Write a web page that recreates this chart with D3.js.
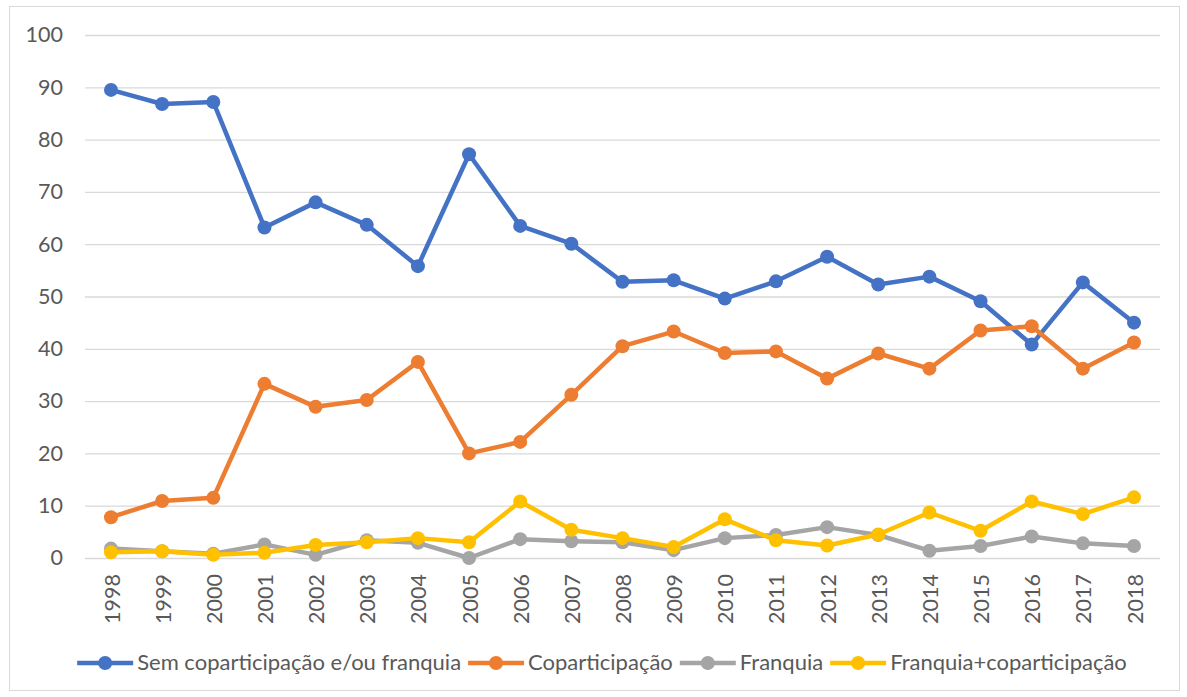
<!DOCTYPE html>
<html>
<head>
<meta charset="utf-8">
<script src="https://cdn.jsdelivr.net/npm/d3@7"></script>
<style>
body { margin: 0; background: #fff; }
text { font-family: Lato, "Open Sans", sans-serif; fill: #595959; }
</style>
</head>
<body>
<svg id="chart"></svg>
<script>
var years = ["1998", "1999", "2000", "2001", "2002", "2003", "2004", "2005", "2006", "2007",
	"2008", "2009", "2010", "2011", "2012", "2013", "2014", "2015", "2016", "2017", "2018"];

var semCopart = [89.5, 86.8, 87.2, 63.2, 68.0, 63.7, 55.8, 77.2, 63.5, 60.1,
	52.8, 53.1, 49.6, 52.9, 57.6, 52.3, 53.8, 49.1, 40.8, 52.7, 45.0];
var copart = [7.8, 10.9, 11.5, 33.3, 28.9, 30.2, 37.5, 20.0, 22.2, 31.2,
	40.5, 43.3, 39.2, 39.5, 34.3, 39.1, 36.2, 43.5, 44.3, 36.2, 41.2];
var franquia = [1.8, 1.3, 0.8, 2.6, 0.6, 3.4, 2.9, 0.0, 3.6, 3.2,
	3.0, 1.5, 3.8, 4.4, 5.9, 4.4, 1.4, 2.3, 4.1, 2.8, 2.3];
var franqCopart = [1.1, 1.3, 0.6, 1.0, 2.5, 3.0, 3.8, 3.0, 10.8, 5.4,
	3.8, 2.1, 7.4, 3.4, 2.4, 4.5, 8.7, 5.2, 10.8, 8.4, 11.6];

var yTicks = [0, 10, 20, 30, 40, 50, 60, 70, 80, 90, 100];

var seriesNames = ["Sem coparticipação e/ou franquia", "Coparticipação", "Franquia", "Franquia+coparticipação"];
var seriesColors = ["#4472c4", "#ed7d31", "#a5a5a5", "#ffc000"];
var seriesValues = [semCopart, copart, franquia, franqCopart];

var width = 1187, height = 697;
var svg = d3.select("#chart")
	.attr("width", width)
	.attr("height", height);

// chart border
svg.append("rect")
	.attr("x", 9.5)
	.attr("y", 6.5)
	.attr("width", 1170)
	.attr("height", 684)
	.style("fill", "none")
	.style("stroke", "#d9d9d9");

var x = d3.scalePoint()
	.domain(years)
	.range([111, 1134]);
var y = d3.scaleLinear()
	.domain([0, 100])
	.range([558, 35]);

// gridlines
svg.append("g")
	.selectAll("line")
	.data(yTicks)
	.enter()
	.append("line")
	.attr("x1", 85)
	.attr("x2", 1160)
	.attr("y1", function(d) { return y(d) + 0.5; })
	.attr("y2", function(d) { return y(d) + 0.5; })
	.style("stroke", "#d9d9d9")
	.style("stroke-width", 1.3);

var yAxis = d3.axisLeft(y)
	.tickValues(yTicks)
	.tickSize(0)
	.tickPadding(0);
var gy = svg.append("g")
	.attr("transform", "translate(63,0)")
	.call(yAxis);
gy.select(".domain").remove();
gy.selectAll("text")
	.style("font-family", "Lato, sans-serif")
	.style("font-size", "21.5px")
	.style("fill", "#595959");

var xAxis = d3.axisBottom(x)
	.tickSize(0)
	.tickPadding(0);
var gx = svg.append("g")
	.attr("transform", "translate(0," + 558 + ")")
	.call(xAxis);
gx.select(".domain").remove();
gx.selectAll("text")
	.style("font-family", "Lato, sans-serif")
	.style("font-size", "21.5px")
	.style("fill", "#595959")
	.style("text-anchor", "end")
	.attr("dy", null)
	.attr("y", 0)
	.attr("x", -16)
	.attr("transform", "rotate(-90)")
	.attr("dominant-baseline", "central");

var line = d3.line()
	.x(function(d, i) { return x(years[i]); })
	.y(function(d) { return y(d); });

seriesValues.forEach(function(vals, s) {
	svg.append("path")
		.datum(vals)
		.attr("d", line)
		.style("fill", "none")
		.style("stroke", seriesColors[s])
		.style("stroke-width", 4.5)
		.style("stroke-linejoin", "round");
	svg.append("g")
		.selectAll("circle")
		.data(vals)
		.enter()
		.append("circle")
		.attr("cx", function(d, i) { return x(years[i]); })
		.attr("cy", function(d) { return y(d); })
		.attr("r", 7)
		.style("fill", seriesColors[s]);
});

// legend, laid out from the measured text widths
var legend = svg.append("g");
var items = [];
seriesNames.forEach(function(name, s) {
	var g = legend.append("g");
	g.append("line")
		.attr("x1", 0)
		.attr("x2", 56)
		.attr("y1", 663)
		.attr("y2", 663)
		.style("stroke", seriesColors[s])
		.style("stroke-width", 4.5);
	g.append("circle")
		.attr("cx", 28)
		.attr("cy", 663)
		.attr("r", 7)
		.style("fill", seriesColors[s]);
	var t = g.append("text")
		.attr("x", 60)
		.attr("y", 661)
		.attr("dominant-baseline", "central")
		.style("font-size", "22px")
		.text(name);
	items.push({ g: g, w: 60 + t.node().getComputedTextLength() });
});
var total = d3.sum(items, function(d) { return d.w; }) + 7 * (items.length - 1);
var lx = 602 - total / 2;
items.forEach(function(it) {
	it.g.attr("transform", "translate(" + lx + ",0)");
	lx += it.w + 7;
});
</script>
</body>
</html>
